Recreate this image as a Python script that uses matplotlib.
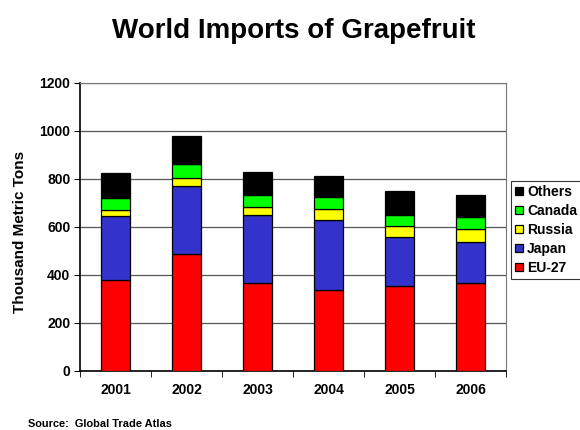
import numpy as np
import matplotlib.pyplot as plt

plt.rcParams['font.family'] = ['Liberation Sans', 'DejaVu Sans']
plt.rcParams['font.weight'] = 'bold'

years = ["2001", "2002", "2003", "2004", "2005", "2006"]
eu27 = [378, 486, 368, 339, 356, 367]
japan = [269, 286, 283, 289, 204, 169]
russia = [25, 34, 34, 46, 46, 57]
canada = [49, 55, 48, 50, 43, 47]
others = [105, 117, 96, 87, 100, 93]

series = [("EU-27", eu27, "#ff0000"),
          ("Japan", japan, "#3333cc"),
          ("Russia", russia, "#ffff00"),
          ("Canada", canada, "#00ff00"),
          ("Others", others, "#000000")]

fig = plt.figure(figsize=(5.8, 4.3), dpi=100)
ax = fig.add_axes([80 / 580, 1 - 371 / 430, 426 / 580, 288 / 430])

x = np.arange(len(years))
bottom = np.zeros(len(years))
handles = []
for name, vals, col in series:
    b = ax.bar(x, vals, 0.4, bottom=bottom, color=col, edgecolor="black",
               linewidth=0.9, label=name, zorder=3)
    handles.append(b)
    bottom += np.array(vals)

ax.set_xlim(-0.5, len(years) - 0.5)
ax.set_ylim(0, 1200)
ax.set_yticks(range(0, 1201, 200))
ax.set_xticks(x)
ax.set_xticklabels(years, fontsize=10, fontweight="bold")
ax.set_xticks(np.arange(-0.5, len(years)), minor=True)
ax.tick_params(axis="x", which="major", length=0, pad=9)
ax.tick_params(axis="x", which="minor", length=4, direction="out", color="black")
ax.tick_params(axis="y", length=4, direction="out", labelsize=10, pad=3)
for lbl in ax.get_yticklabels():
    lbl.set_fontweight("bold")

ax.grid(axis="y", color="#555555", linewidth=0.9, zorder=0)
ax.spines["top"].set_color("#777777")
ax.spines["right"].set_color("#777777")
ax.spines["left"].set_linewidth(1.2)
ax.spines["bottom"].set_linewidth(1.2)

fig.text(20 / 580, 1 - 232 / 430, "Thousand Metric Tons", rotation=90,
         ha="center", va="center", fontsize=11, fontweight="bold")

fig.text(294 / 580, 1 - 38 / 430, "World Imports of Grapefruit", ha="center",
         va="baseline", fontsize=20, fontweight="bold")
fig.text(28 / 580, 1 - 424 / 430, "Source:  Global Trade Atlas", ha="left",
         va="center", fontsize=7.9, fontweight="bold")

leg = fig.legend(handles[::-1], [s[0] for s in series][::-1],
                 loc="upper left", bbox_to_anchor=(511 / 580, 1 - 181 / 430),
                 fontsize=10, frameon=True, fancybox=False, edgecolor="black",
                 handlelength=0.55, handleheight=0.55, handletextpad=0.3,
                 labelspacing=0.35, borderpad=0.3, borderaxespad=0)
leg.get_frame().set_linewidth(0.8)
for t in leg.get_texts():
    t.set_fontweight("bold")

fig.savefig("out.png", dpi=100)
